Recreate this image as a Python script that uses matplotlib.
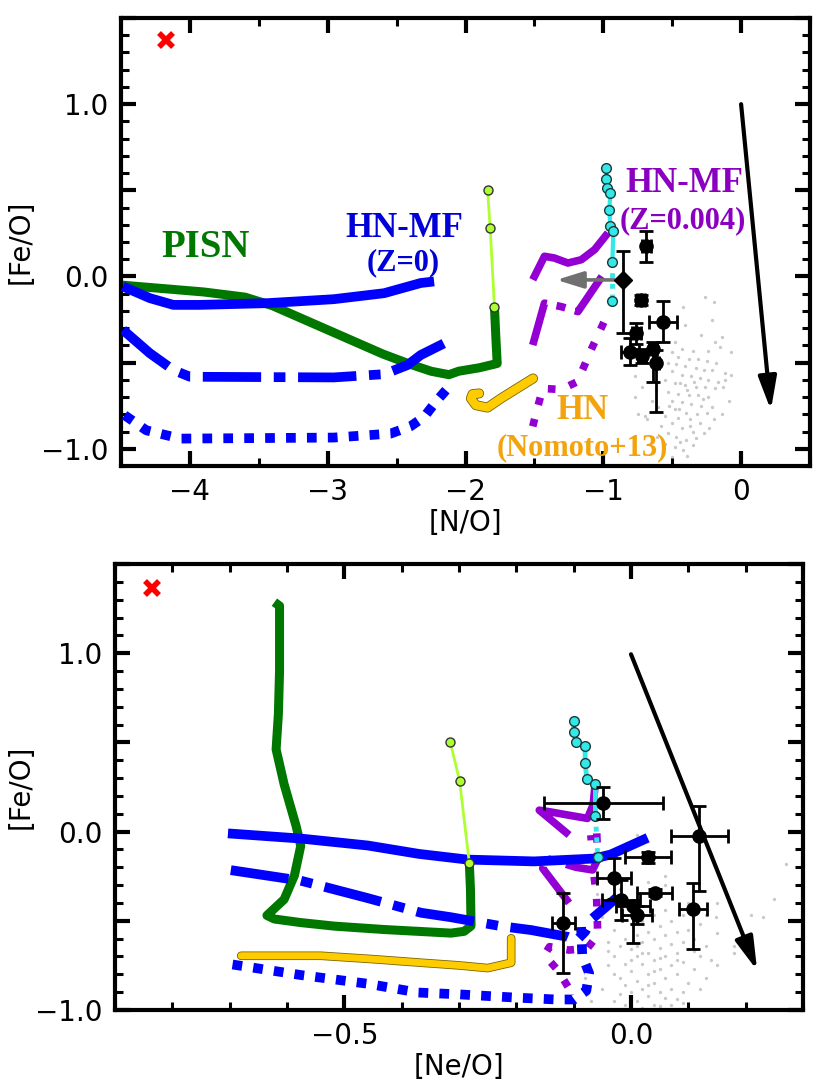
import matplotlib
matplotlib.use("Agg")
import matplotlib.pyplot as plt
from matplotlib.ticker import MultipleLocator, FuncFormatter
import matplotlib.patheffects as pe

# ======================= TOP PANEL  ([N/O] vs [Fe/O]) =======================
pisn_no = [-4.5, -4.2, -3.9, -3.6, -3.4, -3.2, -3.0, -2.8, -2.6, -2.4, -2.25, -2.12, -2.05, -1.9, -1.77, -1.78, -1.79]
pisn_feo_t = [-0.05, -0.07, -0.09, -0.12, -0.17, -0.24, -0.31, -0.38, -0.45, -0.51, -0.55, -0.57, -0.55, -0.53, -0.505, -0.35, -0.175]
pisn_mk_no = [-1.79, -1.821, -1.840]
pisn_mk_feo_t = [-0.175, 0.282, 0.501]

hn0_sol_no = [-4.486, -4.29, -4.12, -3.93, -3.44, -2.957, -2.59, -2.325, -2.228]
hn0_sol_feo = [-0.058, -0.126, -0.165, -0.165, -0.155, -0.132, -0.097, -0.038, -0.029]
hn0_dd_no = [-4.486, -4.29, -4.12, -4.0, -2.957, -2.59, -2.42, -2.325, -2.13]
hn0_dd_feo = [-0.31, -0.446, -0.543, -0.582, -0.586, -0.567, -0.514, -0.456, -0.378]
hn0_dot_no = [-4.474, -4.316, -4.07, -2.957, -2.544, -2.40, -2.30, -2.216, -2.12]
hn0_dot_feo = [-0.805, -0.893, -0.941, -0.935, -0.912, -0.87, -0.815, -0.728, -0.64]

hnz_sol_no = [-1.512, -1.427, -1.355, -1.257, -1.160, -1.063, -0.966]
hnz_sol_feo = [-0.019, 0.117, 0.107, 0.078, 0.097, 0.156, 0.253]
hnz_dd_no = [-1.512, -1.427, -1.306, -1.184, -1.002]
hnz_dd_feo = [-0.398, -0.155, -0.175, -0.204, 0.01]
hnz_dot_no = [-1.512, -1.476, -1.439, -1.306, -1.189, -1.141, -1.087, -1.027, -0.966]
hnz_dot_feo = [-0.87, -0.757, -0.65, -0.656, -0.611, -0.524, -0.423, -0.32, -0.213]

hn13_no = [-1.510, -1.743, -1.840, -1.925, -1.961, -1.949, -1.901]
hn13_feo = [-0.592, -0.708, -0.761, -0.747, -0.708, -0.683, -0.679]

cyan_no = [-0.978, -0.978, -0.97, -0.949, -0.956, -0.949, -0.927, -0.934, -0.934]
cyan_feo_t = [0.627, 0.563, 0.511, 0.482, 0.388, 0.295, 0.266, 0.086, -0.142]

obs_no = [-0.687, -0.726, -0.565, -0.76, -0.806, -0.72, -0.638, -0.614]
obs_feo_t = [0.175, -0.136, -0.262, -0.33, -0.437, -0.46, -0.423, -0.505]
obs_no_err = [0.03, 0.03, 0.10, 0.03, 0.066, 0.03, 0.03, 0.02]
obs_feo_t_lo = [0.09, 0.03, 0.12, 0.06, 0.078, 0.04, 0.19, 0.28]
obs_feo_t_hi = [0.09, 0.03, 0.12, 0.06, 0.078, 0.04, 0.04, 0.08]

lim_no, lim_feo = -0.857, -0.02
lim_feo_lo, lim_feo_hi = 0.31, 0.17
lim_arrow_no = [-0.92, -1.34]

gx_top = [-0.26, -0.20, -0.42, -0.21, -0.41, -0.29, -0.14, -0.19, -0.48, -0.15, -0.07, -0.24, -0.35, -0.43,
          -0.50, -0.46, -0.38, -0.31, -0.25, -0.18, -0.53, -0.47, -0.41, -0.33, -0.27, -0.21, -0.12, -0.07,
          -0.50, -0.43, -0.36, -0.30, -0.24, -0.17, -0.55, -0.48, -0.41, -0.33, -0.26, -0.19, -0.13, -0.53,
          -0.46, -0.38, -0.31, -0.24, -0.50, -0.43, -0.36, -0.29, -0.21, -0.48, -0.40, -0.32, -0.25, -0.55,
          -0.46, -0.37, -0.30, -0.50, -0.58, -0.43, -0.35, -0.53, -0.47, -0.40, -0.55, -0.48, -0.42, -0.35,
          -0.75, -0.70, -0.77, -0.77, -0.72, -0.65, -0.68, -0.61, -0.57, -0.50, -0.27, -0.20, -0.14, -0.09,
          -0.12, -0.44, -0.39, -0.34, -0.28, -0.45, -0.52, -0.37, -0.33, -0.44, -0.39, -0.60, -0.62, -0.23]
gy_top = [-0.12, -0.15, -0.18, -0.25, -0.28, -0.34, -0.35, -0.38, -0.38, -0.41, -0.44, -0.43, -0.43, -0.42,
          -0.44, -0.47, -0.48, -0.48, -0.49, -0.50, -0.50, -0.51, -0.52, -0.53, -0.54, -0.54, -0.56, -0.57,
          -0.55, -0.57, -0.58, -0.59, -0.60, -0.61, -0.60, -0.62, -0.63, -0.64, -0.64, -0.65, -0.64, -0.67,
          -0.68, -0.69, -0.69, -0.70, -0.72, -0.73, -0.74, -0.75, -0.76, -0.77, -0.79, -0.80, -0.79, -0.81,
          -0.82, -0.83, -0.85, -0.85, -0.87, -0.88, -0.90, -0.91, -0.93, -0.95, -0.97, -0.99, -1.01, -0.98,
          -0.80, -0.81, -0.70, -0.58, -0.64, -0.72, -0.83, -0.93, -1.03, -1.05, -0.91, -0.83, -0.80, -0.72,
          -0.60, -0.62, -0.66, -0.61, -0.71, -0.77, -0.75, -0.87, -0.94, -0.96, -1.04, -0.76, -0.66, -0.88]

# ======================= BOTTOM PANEL ([Ne/O] vs [Fe/O]) =======================
pisn_neo = [-0.622, -0.613, -0.613, -0.615, -0.619, -0.605, -0.584, -0.576, -0.587, -0.605, -0.625, -0.635,
            -0.622, -0.576, -0.517, -0.43, -0.372, -0.314, -0.291, -0.279, -0.280, -0.282]
pisn_feo_b = [1.286, 1.265, 0.90, 0.66, 0.461, 0.265, 0.03, -0.08, -0.245, -0.38, -0.44, -0.47,
              -0.49, -0.51, -0.53, -0.549, -0.559, -0.569, -0.559, -0.529, -0.324, -0.176]
pisn_mk_neo = [-0.282, -0.299, -0.315]
pisn_mk_feo_b = [-0.176, 0.284, 0.50]

hn0_sol_neo = [-0.703, -0.576, -0.459, -0.37, -0.285, -0.169, -0.064, -0.035, 0.029]
hn0_sol_feo_b = [-0.01, -0.039, -0.078, -0.125, -0.157, -0.167, -0.151, -0.128, -0.035]
hn0_dd_neo = [-0.698, -0.576, -0.459, -0.366, -0.314, -0.227, -0.174, -0.11, -0.095, -0.08, -0.067, -0.023]
hn0_dd_feo_b = [-0.216, -0.275, -0.373, -0.455, -0.48, -0.53, -0.552, -0.59, -0.61, -0.56, -0.486, -0.365]
hn0_dot_neo = [-0.695, -0.576, -0.459, -0.372, -0.302, -0.198, -0.131, -0.099, -0.078, -0.073, -0.085, -0.087]
hn0_dot_feo_b = [-0.745, -0.804, -0.853, -0.902, -0.912, -0.931, -0.941, -0.941, -0.892, -0.794, -0.697, -0.535]

hnz_sol_neo = [-0.108, -0.160, -0.140, -0.105, -0.076, -0.066, -0.063]
hnz_sol_feo_b = [-0.019, 0.12, 0.11, 0.09, 0.074, 0.15, 0.25]
hnz_dd_neo = [-0.108, -0.154, -0.148, -0.096, -0.067, -0.058, -0.060]
hnz_dd_feo_b = [-0.40, -0.206, -0.15, -0.20, -0.215, -0.155, 0.01]
hnz_dot_neo = [-0.110, -0.128, -0.151, -0.142, -0.108, -0.076, -0.058, -0.060, -0.064, -0.070]
hnz_dot_feo_b = [-0.869, -0.776, -0.692, -0.645, -0.664, -0.654, -0.58, -0.365, -0.262, -0.02]

hn13_neo = [-0.68, -0.60, -0.541, -0.45, -0.366, -0.30, -0.25, -0.209, -0.209]
hn13_feo_b = [-0.696, -0.696, -0.696, -0.715, -0.735, -0.75, -0.765, -0.735, -0.598]

cyan_neo = [-0.100, -0.100, -0.096, -0.080, -0.080, -0.077, -0.062, -0.062, -0.058]
cyan_feo_b = [0.622, 0.560, 0.504, 0.480, 0.386, 0.293, 0.267, 0.087, -0.144]

obs_neo = [-0.048, 0.119, 0.030, -0.030, 0.041, 0.108, -0.017, 0.003, 0.010, -0.118]
obs_feo_b = [0.162, -0.025, -0.144, -0.262, -0.342, -0.436, -0.383, -0.417, -0.467, -0.51]
obs_neo_err = [0.103, 0.05, 0.04, 0.03, 0.03, 0.025, 0.033, 0.03, 0.026, 0.02]
obs_feo_b_lo = [0.09, 0.31, 0.03, 0.115, 0.02, 0.22, 0.11, 0.21, 0.05, 0.285]
obs_feo_b_hi = [0.09, 0.17, 0.03, 0.115, 0.02, 0.15, 0.11, 0.02, 0.05, 0.165]

gx_bot = [-0.05, -0.04, -0.04, -0.05, -0.03, -0.03, -0.03, -0.02, -0.02, -0.01, -0.01, -0.01, -0.01, 0.00,
          0.00, 0.00, 0.00, 0.01, 0.01, 0.01, 0.01, 0.02, 0.02, 0.02, 0.02, 0.03, 0.03, 0.03, 0.03, 0.04,
          0.04, 0.04, 0.04, 0.04, 0.05, 0.05, 0.05, 0.05, 0.06, 0.06, 0.06, 0.06, 0.07, 0.07, 0.07, 0.07,
          0.08, 0.08, 0.08, 0.08, 0.09, 0.09, 0.09, 0.10, 0.10, 0.10, 0.11, 0.11, 0.12, 0.12, 0.13, 0.13,
          0.15, 0.15, 0.18, 0.18, 0.21, 0.23, 0.27, 0.25, -0.08, -0.07, -0.06, 0.01, 0.06, 0.10, 0.15, -0.02,
          0.13, 0.148, -0.045, 0.02, 0.05, 0.09, 0.06, 0.03,
          -0.04, -0.02, 0.00, 0.02, 0.03, 0.05, 0.06, 0.08, 0.09, 0.11, 0.04, 0.07, 0.01, -0.03, 0.12, 0.14]
gy_bot = [-0.48, -0.62, -0.75, -0.88, -0.95, -0.55, -0.70, -0.82, -0.91, -0.60, -0.74, -0.86, -0.97, -0.52,
          -0.66, -0.78, -0.90, -0.58, -0.70, -0.84, -0.95, -0.50, -0.62, -0.74, -0.88, -0.56, -0.68, -0.80,
          -0.92, -0.47, -0.60, -0.72, -0.85, -0.97, -0.53, -0.65, -0.77, -0.90, -0.44, -0.58, -0.70, -0.82,
          -0.50, -0.63, -0.75, -0.88, -0.56, -0.68, -0.80, -0.94, -0.47, -0.62, -0.73, -0.55, -0.66, -0.85,
          -0.60, -0.77, -0.52, -0.70, -0.64, -0.82, -0.57, -0.75, -0.68, -0.64, -0.47, -0.48, -0.18, -0.38,
          -0.82, -0.95, -0.35, -0.02, -0.30, -0.40, -0.40, -0.32, -0.47, -0.48, -0.40, -0.99, -0.98, -0.96,
          -0.25, -0.28,
          -0.67, -0.64, -0.72, -0.68, -0.86, -0.71, -0.93, -0.72, -0.90, -0.67, -0.78, -0.97, -0.64, -0.80, -0.88, -0.72]

red_no, red_feo_t = -4.17, 1.37
red_neo, red_feo_b = -0.836, 1.363
vec_start_t, vec_end_t = (0.0, 1.0), (0.216, -0.776)
vec_start_b, vec_end_b = (0.0, 0.994), (0.22, -0.778)

# ------------------------------- styling ------------------------------------
C_GREEN = "#007800"
C_LGREEN = "#adff2f"
C_BLUE = "#0000ff"
C_PURP = "#9400d3"
C_GOLD = "#ffcc00"
C_CYAN = "#33e8e8"
DD = (0, (6, 1.3, 1.2, 1.3))
DOT = (0, (1.0, 1.15))
SERIF = ["Liberation Serif", "DejaVu Serif"]

plt.rcParams["font.family"] = ["DejaVu Sans"]
fig = plt.figure(figsize=(8.18, 10.88), dpi=100)
ax1 = fig.add_axes([121 / 818, (1088 - 466) / 1088, 689 / 818, 448 / 1088])
ax2 = fig.add_axes([115 / 818, (1088 - 1010) / 1088, 688 / 818, 446 / 1088])


def minus(s):
    return s.replace("-", "\u2212")


def style_axes(ax, xmaj, xmin, xfmt, ylab_x):
    ax.xaxis.set_major_locator(MultipleLocator(xmaj))
    ax.xaxis.set_minor_locator(MultipleLocator(xmin))
    ax.yaxis.set_major_locator(MultipleLocator(0.5))
    ax.yaxis.set_minor_locator(MultipleLocator(0.1))
    ax.xaxis.set_major_formatter(FuncFormatter(lambda v, p: minus(xfmt(v))))
    ax.yaxis.set_major_formatter(FuncFormatter(
        lambda v, p: minus("%.1f" % v) if abs(v - round(v)) < 1e-6 else ""))
    ax.tick_params(which="both", direction="in", top=True, right=True, labelsize=20)
    ax.tick_params(which="major", length=11, width=3, pad=9)
    ax.tick_params(which="minor", length=6, width=2.2)
    for s in ax.spines.values():
        s.set_linewidth(3)
    ax.set_ylabel("[Fe/O]", fontsize=20)
    ax.yaxis.set_label_coords(ylab_x, 0.5)


def gold_line(ax, x, y, lw):
    ax.plot(x, y, color=C_GOLD, lw=lw, solid_capstyle="round", solid_joinstyle="round", zorder=3,
            path_effects=[pe.Stroke(linewidth=lw + 1.2, foreground="#7a6400"), pe.Normal()])


def arrow(ax, start, end, color, lw, hl, hw, ms, z):
    ax.annotate("", xy=end, xytext=start, zorder=z,
                arrowprops=dict(arrowstyle="-|>,head_length=%g,head_width=%g" % (hl, hw),
                                color=color, lw=lw, shrinkA=0, shrinkB=0, mutation_scale=ms))


# ------------------------------- top panel ----------------------------------
ax = ax1
ax.plot(gx_top, gy_top, "o", ms=2.4, color="#c9c9c9", mec="none", zorder=1)
ax.plot(pisn_no, pisn_feo_t, color=C_GREEN, lw=6.5, solid_capstyle="butt", zorder=2)
ax.plot(pisn_mk_no, pisn_mk_feo_t, color=C_LGREEN, lw=2, marker="o", ms=6.5, mfc=C_LGREEN, mec="#333333",
        mew=1, zorder=4)
ax.plot(hn0_sol_no, hn0_sol_feo, color=C_BLUE, lw=7, zorder=3, solid_capstyle="butt")
ax.plot(hn0_dd_no, hn0_dd_feo, color=C_BLUE, lw=7, ls=DD, zorder=3, dash_capstyle="butt")
ax.plot(hn0_dot_no, hn0_dot_feo, color=C_BLUE, lw=7, ls=DOT, zorder=3, dash_capstyle="butt")
ax.plot(hnz_sol_no, hnz_sol_feo, color=C_PURP, lw=5.5, zorder=3, solid_capstyle="butt")
ax.plot(hnz_dd_no, hnz_dd_feo, color=C_PURP, lw=5.5, ls=DD, zorder=3, dash_capstyle="butt")
ax.plot(hnz_dot_no, hnz_dot_feo, color=C_PURP, lw=5.5, ls=(0, (1, 1.9)), zorder=3, dash_capstyle="butt")
gold_line(ax, hn13_no, hn13_feo, 6)
ax.plot(cyan_no[:8], cyan_feo_t[:8], color=C_CYAN, lw=3, zorder=4)
ax.plot(cyan_no[7:], cyan_feo_t[7:], color=C_CYAN, lw=3.5, ls=(0, (1, 1.2)), zorder=4)
ax.plot(cyan_no, cyan_feo_t, "o", ms=7, mfc=C_CYAN, mec="#1a3a3a", mew=1, zorder=5)
arrow(ax, (lim_arrow_no[0], lim_feo), (lim_arrow_no[1], lim_feo), "#707070", 2.6, 0.9, 0.28, 18, 5)
ax.errorbar(obs_no, obs_feo_t, xerr=obs_no_err, yerr=[obs_feo_t_lo, obs_feo_t_hi], fmt="o", color="k",
            ms=9.5, elinewidth=2, capsize=5, capthick=2, zorder=6)
ax.errorbar([lim_no], [lim_feo], yerr=[[lim_feo_lo], [lim_feo_hi]], fmt="D", color="k", ms=9,
            elinewidth=2, capsize=5, capthick=2, zorder=6)
ax.plot([red_no], [red_feo_t], "x", color="red", ms=10, mew=4, zorder=6)
arrow(ax, vec_start_t, vec_end_t, "k", 3, 0.8, 0.22, 25, 7)

ax.text(-3.884, 0.115, "PISN", color=C_GREEN, fontsize=28, fontweight="bold", family=SERIF,
        ha="center", va="baseline")
ax.text(-2.447, 0.231, "HN-MF", color="#0000d8", fontsize=25, fontweight="bold", family=SERIF,
        ha="center", va="baseline")
ax.text(-2.453, 0.035, "(Z=0)", color="#0000d8", fontsize=22, fontweight="bold", family=SERIF,
        ha="center", va="baseline")
ax.text(-0.414, 0.488, "HN-MF", color="#8b00c0", fontsize=25, fontweight="bold", family=SERIF,
        ha="center", va="baseline")
ax.text(-0.42, 0.282, "(Z=0.004)", color="#8b00c0", fontsize=22, fontweight="bold", family=SERIF,
        ha="center", va="baseline")
ax.text(-1.154, -0.825, "HN", color="#f3a30c", fontsize=25, fontweight="bold", family=SERIF,
        ha="center", va="baseline")
ax.text(-1.154, -1.038, "(Nomoto+13)", color="#f3a30c", fontsize=22, fontweight="bold", family=SERIF,
        ha="center", va="baseline")

ax.set_xlim(-4.5, 0.5)
ax.set_ylim(-1.1, 1.5)
style_axes(ax, 1.0, 0.5, lambda v: "%d" % round(v), -0.125)
ax.set_xlabel("[N/O]", fontsize=20, labelpad=2)

# ------------------------------- bottom panel -------------------------------
ax = ax2
ax.plot(gx_bot, gy_bot, "o", ms=2.4, color="#c9c9c9", mec="none", zorder=1)
ax.plot(pisn_neo, pisn_feo_b, color=C_GREEN, lw=6.5, solid_capstyle="butt", solid_joinstyle="round", zorder=2)
ax.plot(pisn_mk_neo, pisn_mk_feo_b, color=C_LGREEN, lw=2, marker="o", ms=6.5, mfc=C_LGREEN, mec="#333333",
        mew=1, zorder=4)
ax.plot(hn0_sol_neo, hn0_sol_feo_b, color=C_BLUE, lw=7, zorder=3, solid_capstyle="butt")
ax.plot(hn0_dd_neo, hn0_dd_feo_b, color=C_BLUE, lw=7, ls=DD, zorder=3, dash_capstyle="butt")
ax.plot(hn0_dot_neo, hn0_dot_feo_b, color=C_BLUE, lw=7, ls=DOT, zorder=3, dash_capstyle="butt")
ax.plot(hnz_sol_neo, hnz_sol_feo_b, color=C_PURP, lw=5.5, zorder=2.5, solid_capstyle="butt")
ax.plot(hnz_dd_neo, hnz_dd_feo_b, color=C_PURP, lw=5.5, ls=DD, zorder=2.5, dash_capstyle="butt")
ax.plot(hnz_dot_neo, hnz_dot_feo_b, color=C_PURP, lw=5.5, ls=(0, (1, 1.9)), zorder=2.5, dash_capstyle="butt")
gold_line(ax, hn13_neo, hn13_feo_b, 5)
ax.plot(cyan_neo[:8], cyan_feo_b[:8], color=C_CYAN, lw=3.5, zorder=4)
ax.plot(cyan_neo[7:], cyan_feo_b[7:], color=C_CYAN, lw=3.5, ls=(0, (1, 1.2)), zorder=4)
ax.plot(cyan_neo, cyan_feo_b, "o", ms=7, mfc=C_CYAN, mec="#1a3a3a", mew=1, zorder=5)
ax.errorbar(obs_neo, obs_feo_b, xerr=obs_neo_err, yerr=[obs_feo_b_lo, obs_feo_b_hi], fmt="o", color="k",
            ms=9.5, elinewidth=2, capsize=5, capthick=2, zorder=6)
ax.plot([red_neo], [red_feo_b], "x", color="red", ms=10, mew=4, zorder=6)
arrow(ax, vec_start_b, vec_end_b, "k", 3, 0.8, 0.22, 25, 7)

ax.set_xlim(-0.9, 0.3)
ax.set_ylim(-1.0, 1.5)
style_axes(ax, 0.5, 0.1, lambda v: "%.1f" % v, -0.117)
ax.set_xlabel("[Ne/O]", fontsize=20, labelpad=2)

fig.savefig("out.png", dpi=100)
